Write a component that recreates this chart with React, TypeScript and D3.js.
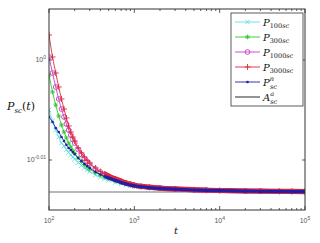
import React from "react";
import * as d3 from "d3";

// time grid shared by every series
const tValues = [
  100, 110, 120, 130, 140, 150, 160, 170, 180, 190, 200, 220, 240, 260, 280, 300, 350, 400, 450, 500,
  600, 700, 800, 900, 1000, 1200, 1500, 2000, 3000, 5000, 7000, 10000, 20000, 30000, 50000, 70000, 100000,
];

const p100 = [
  0.98855, 0.98605, 0.98401, 0.98243, 0.98107, 0.98039, 0.9796, 0.97893, 0.97836, 0.97791, 0.97746,
  0.97668, 0.976, 0.97544, 0.97499, 0.97465, 0.97387, 0.97342, 0.97302, 0.9727, 0.97223, 0.97188,
  0.97163, 0.97145, 0.97132, 0.97114, 0.97098, 0.97083, 0.97065, 0.97049, 0.9704, 0.97034, 0.97025,
  0.9702, 0.97018, 0.97016, 0.97013,
];
const p300 = [
  0.99655, 0.99266, 0.98969, 0.98719, 0.98514, 0.98356, 0.9822, 0.98107, 0.98017, 0.97938, 0.9787,
  0.97769, 0.9769, 0.97623, 0.97566, 0.97521, 0.97443, 0.97387, 0.97342, 0.97308, 0.97252, 0.97212,
  0.97181, 0.97159, 0.97141, 0.97118, 0.97101, 0.97085, 0.97067, 0.97051, 0.97042, 0.97036, 0.97027,
  0.97022, 0.97018, 0.97016, 0.97013,
];
const p1000 = [
  1.00069, 0.99701, 0.9938, 0.99106, 0.98878, 0.98696, 0.98537, 0.98401, 0.98288, 0.98186, 0.98107,
  0.9796, 0.97848, 0.97758, 0.9769, 0.97634, 0.97526, 0.97454, 0.97398, 0.97353, 0.97288, 0.97241,
  0.97203, 0.97176, 0.97154, 0.9713, 0.97109, 0.97092, 0.97071, 0.97054, 0.97045, 0.97038, 0.97029,
  0.97025, 0.9702, 0.97018, 0.97016,
];
const p3000 = [
  1.00577, 1.00069, 0.99701, 0.9938, 0.99106, 0.98878, 0.98673, 0.98492, 0.98356, 0.98243, 0.98152,
  0.97994, 0.97881, 0.97791, 0.97713, 0.97656, 0.97544, 0.97465, 0.97409, 0.97364, 0.97297, 0.97248,
  0.97208, 0.97181, 0.97159, 0.97134, 0.97114, 0.97094, 0.97074, 0.97056, 0.97047, 0.9704, 0.97029,
  0.97025, 0.9702, 0.97018, 0.97016,
];
const pn = [
  0.98696, 0.98583, 0.98446, 0.98356, 0.98243, 0.98152, 0.98062, 0.97994, 0.97949, 0.97904, 0.97859,
  0.97769, 0.97701, 0.97634, 0.97589, 0.97544, 0.97454, 0.97398, 0.97353, 0.9732, 0.97264, 0.97219,
  0.97185, 0.97163, 0.97145, 0.97123, 0.97105, 0.97087, 0.97069, 0.97051, 0.97042, 0.97036, 0.97027,
  0.97022, 0.97018, 0.97016, 0.97013,
];
const aValue = 0.97006;

const xMajor = [100, 1000, 10000, 100000];
const xMajorExp = ["2", "3", "4", "5"];
const yTicks = [1, Math.pow(10, -0.01)];
const yTickExp = ["0", "-0.01"];

type Marker = "x" | "star" | "o" | "plus" | "dot";
const series: { sub: string; sup?: string; values: number[]; color: string; marker: Marker; band: number }[] = [
  { sub: "100", values: p100, color: "#5fdede", marker: "x", band: 0 },
  { sub: "300", values: p300, color: "#2ec82e", marker: "star", band: 0 },
  { sub: "1000", values: p1000, color: "#c63fc6", marker: "o", band: 4.8 },
  { sub: "3000", values: p3000, color: "#e0283a", marker: "plus", band: 5.2 },
  { sub: "", sup: "n", values: pn, color: "#1f1fa8", marker: "dot", band: 3.2 },
];

const W = 320;
const H = 243;
const L = 49;
const R = 305;
const T = 9;
const B = 210;

const x = d3.scaleLog().domain([100, 1e5]).range([L, R]);
const y = d3.scaleLog().domain([0.96605, 1.01181]).range([B, T]);

function MarkerShape({ m, cx, cy, color }: { m: Marker; cx: number; cy: number; color: string }) {
  const s = 2.3;
  if (m === "x")
    return <path d={`M${cx - s},${cy - s}L${cx + s},${cy + s}M${cx - s},${cy + s}L${cx + s},${cy - s}`} stroke={color} strokeWidth={0.9} />;
  if (m === "plus")
    return <path d={`M${cx - 3},${cy}L${cx + 3},${cy}M${cx},${cy - 3}L${cx},${cy + 3}`} stroke={color} strokeWidth={0.9} />;
  if (m === "star")
    return (
      <path
        d={`M${cx - s},${cy}L${cx + s},${cy}M${cx},${cy - s}L${cx},${cy + s}M${cx - 1.7},${cy - 1.7}L${cx + 1.7},${cy + 1.7}M${cx - 1.7},${cy + 1.7}L${cx + 1.7},${cy - 1.7}`}
        stroke={color}
        strokeWidth={0.9}
      />
    );
  if (m === "o") return <circle cx={cx} cy={cy} r={2.4} fill="none" stroke={color} strokeWidth={0.9} />;
  return <circle cx={cx} cy={cy} r={1.3} fill={color} />;
}

export default function App() {
  const line = d3
    .line<number>()
    .x((_, i) => x(tValues[i]))
    .y((d) => y(d))
    .curve(d3.curveMonotoneX);

  const minor: { v: number; major: boolean }[] = [];
  for (let e = 2; e < 5; e++)
    for (let k = 1; k < 10; k++) minor.push({ v: k * Math.pow(10, e), major: k === 1 });
  minor.push({ v: 1e5, major: true });

  const axisColor = "#333";
  const tickFont = "Liberation Sans, Arial, sans-serif";
  const mathFont = "DejaVu Serif, Liberation Serif, serif";
  const bandStart = x(450);

  return (
    <svg width={W} height={H} style={{ position: "absolute", left: 0, top: 0, background: "#fff" }}>
      <defs>
        <clipPath id="plot">
          <rect x={L} y={T} width={R - L} height={B - T} />
        </clipPath>
        <clipPath id="tail">
          <rect x={bandStart} y={T} width={R - bandStart + 2} height={B - T} />
        </clipPath>
      </defs>

      {/* asymptote */}
      <line x1={L} x2={R} y1={y(aValue)} y2={y(aValue)} stroke="#a0a0a0" strokeWidth={1.6} />

      <g clipPath="url(#plot)">
        {series.map((s) => (
          <g key={s.sub + (s.sup || "")}>
            {s.band > 0 && (
              <path d={line(s.values) || ""} fill="none" stroke={s.color} strokeWidth={s.band} clipPath="url(#tail)" />
            )}
            <path d={line(s.values) || ""} fill="none" stroke={s.color} strokeWidth={0.9} />
            {s.values.map((v, i) => (
              <MarkerShape key={i} m={s.marker} cx={x(tValues[i])} cy={y(v)} color={s.color} />
            ))}
          </g>
        ))}
      </g>

      {/* axes box */}
      <rect x={L} y={T} width={R - L} height={B - T} fill="none" stroke={axisColor} strokeWidth={1} />
      {minor.map((t, i) => {
        const xx = x(t.v);
        const len = t.major ? 4 : 2;
        return (
          <g key={i} stroke={axisColor} strokeWidth={0.8}>
            <line x1={xx} x2={xx} y1={B} y2={B - len} />
            <line x1={xx} x2={xx} y1={T} y2={T + len} />
          </g>
        );
      })}
      {yTicks.map((v, i) => (
        <g key={i} stroke={axisColor} strokeWidth={0.8}>
          <line x1={L} x2={L + 3} y1={y(v)} y2={y(v)} />
          <line x1={R} x2={R - 3} y1={y(v)} y2={y(v)} />
        </g>
      ))}

      {/* tick labels */}
      {xMajor.map((v, i) => (
        <text key={i} x={x(v)} y={223} fontFamily={tickFont} fontSize={7} fill="#555" textAnchor="middle">
          10
          <tspan fontSize={5} dy={-3}>
            {xMajorExp[i]}
          </tspan>
        </text>
      ))}
      {yTicks.map((v, i) => (
        <text key={i} x={L - 3} y={y(v) + 2.5} fontFamily={tickFont} fontSize={7} fill="#555" textAnchor="end">
          10
          <tspan fontSize={5} dy={-3}>
            {yTickExp[i]}
          </tspan>
        </text>
      ))}

      {/* axis labels */}
      <text x={7} y={110} fontFamily={mathFont} fontSize={11} fill="#111">
        <tspan fontStyle="italic">P</tspan>
        <tspan fontStyle="italic" fontSize={7} dy={2.5}>
          sc
        </tspan>
        <tspan dy={-2.5}>(</tspan>
        <tspan fontStyle="italic">t</tspan>
        <tspan>)</tspan>
      </text>
      <text x={174} y={234} fontFamily={mathFont} fontSize={10} fontStyle="italic" fill="#111">
        t
      </text>

      {/* legend */}
      <rect x={231} y={13} width={72} height={93} fill="#fff" stroke={axisColor} strokeWidth={0.8} />
      {series.map((s, i) => {
        const yy = 22 + i * 15;
        return (
          <g key={i}>
            <line x1={235} x2={260} y1={yy} y2={yy} stroke={s.color} strokeWidth={0.9} />
            <MarkerShape m={s.marker} cx={247.5} cy={yy} color={s.color} />
            <text x={263} y={yy + 3.5} fontFamily={mathFont} fontSize={10} fill="#111">
              <tspan fontStyle="italic">P</tspan>
              {s.sup ? (
                <>
                  <tspan fontStyle="italic" fontSize={6.5} dy={-4.5}>
                    {s.sup}
                  </tspan>
                  <tspan fontStyle="italic" fontSize={6.5} dx={-4} dy={7.5}>
                    sc
                  </tspan>
                </>
              ) : (
                <>
                  <tspan fontSize={6.5} dy={2.5}>
                    {s.sub}
                  </tspan>
                  <tspan fontStyle="italic" fontSize={6.5}>
                    sc
                  </tspan>
                </>
              )}
            </text>
          </g>
        );
      })}
      <line x1={235} x2={260} y1={97} y2={97} stroke="#111" strokeWidth={0.9} />
      <text x={263} y={100.5} fontFamily={mathFont} fontSize={10} fill="#111">
        <tspan fontStyle="italic">A</tspan>
        <tspan fontStyle="italic" fontSize={6.5} dy={-4.5}>
          a
        </tspan>
        <tspan fontStyle="italic" fontSize={6.5} dx={-4} dy={7.5}>
          sc
        </tspan>
      </text>
    </svg>
  );
}
